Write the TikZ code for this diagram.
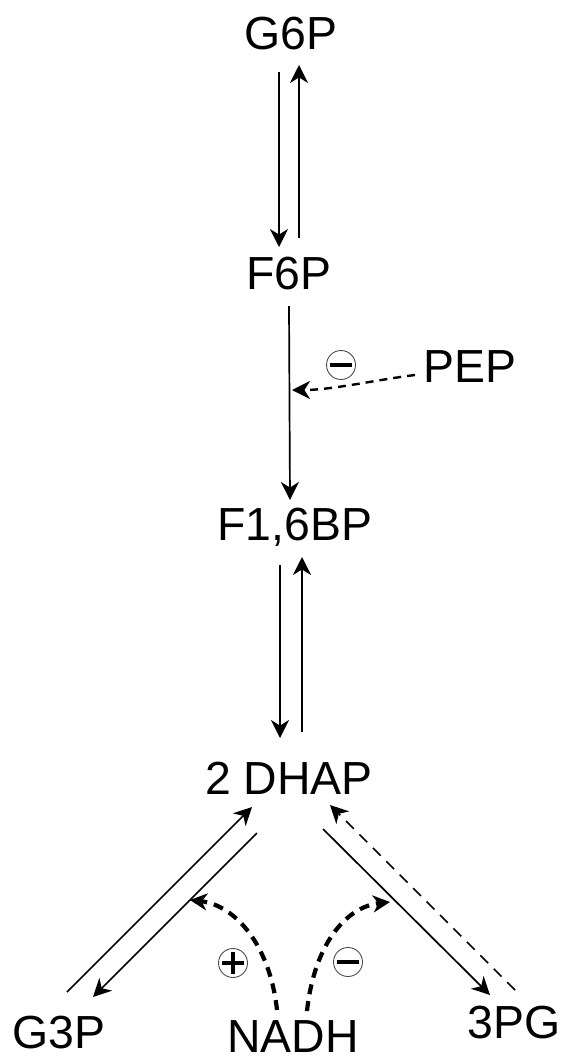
\documentclass[tikz,border=0pt]{standalone}
\usepackage{fontspec}
\setmainfont{Liberation Sans}
\usetikzlibrary{arrows.meta,calc}

\begin{document}
\begin{tikzpicture}[x=0.5pt,y=-0.5pt,
  met/.style={inner sep=0pt, anchor=base, font=\fontsize{23.2}{28}\selectfont},
  tip/.style={-{Stealth[length=9pt,width=9pt,inset=2.8pt]}},
  flux/.style={line width=0.85pt, tip},
  back/.style={line width=0.85pt, dash pattern=on 5.5pt off 4pt, tip},
  regul/.style={line width=1.2pt, dash pattern=on 4pt off 3pt, tip},
  nadreg/.style={line width=2.1pt, dash pattern=on 5pt off 3.5pt, -{Stealth[length=8.5pt,width=8.5pt,inset=2.6pt]}},
  sign/.style={circle, draw=black!70, line width=0.45pt, minimum size=14.5pt, inner sep=0pt},
  minus/.style={sign, path picture={
      \draw[black, line width=2.3pt] ([xshift=-5.3pt]path picture bounding box.center)
        -- ([xshift=5.3pt]path picture bounding box.center);}},
  plus/.style={sign, path picture={
      \draw[black, line width=2.3pt] ([xshift=-5.3pt]path picture bounding box.center)
        -- ([xshift=5.3pt]path picture bounding box.center);
      \draw[black, line width=2.3pt] ([yshift=-5.3pt]path picture bounding box.center)
        -- ([yshift=5.3pt]path picture bounding box.center);}}
]
\useasboundingbox (0,0) rectangle (564,1060);

% metabolites
\node[met] (G6P)  at (291,49)   {G6P};
\node[met] (F6P)  at (289,289)  {F6P};
\node[met] (PEP)  at (470,382)  {PEP};
\node[met] (F16BP) at (295,540) {F1,6BP};
\node[met] (DHAP) at (289,794)  {2 DHAP};
\node[met] (G3P)  at (59,1048)  {G3P};
\node[met] (NADH) at (293,1052) {NADH};
\node[met] (PG3)  at (514,1038) {3PG};

% upper glycolysis
\draw[flux] ($(G6P.base)+(-12,23)$) -- ($(F6P.base)+(-10,-42)$);
\draw[flux] ($(F6P.base)+(10,-51)$) -- ($(G6P.base)+(8,16)$);
\draw[flux] ($(F6P.base)+(0,17)$) -- ($(F16BP.base)+(-5,-40)$);
\draw[flux] ($(F16BP.base)+(-15,25)$) -- ($(DHAP.base)+(-9,-56)$);
\draw[flux] ($(DHAP.base)+(13,-62)$) -- ($(F16BP.base)+(7,17)$);

% PEP inhibition of the F6P -> F1,6BP step
\coordinate (pfk) at ($(F6P.base)+(3,101)$);
\draw[regul] ($(PEP.base)+(-55,-7)$) .. controls +(-40,5) and +(40,0) .. (pfk);
\node[minus] (m1) at (341,365) {};

% branches from DHAP
\draw[flux] ($(DHAP.base)+(-32,39)$) -- ($(G3P.base)+(34,-51)$);
\draw[flux] ($(G3P.base)+(8,-56)$) -- ($(DHAP.base)+(-37,13)$);
\draw[flux] ($(DHAP.base)+(34,35)$) -- ($(PG3.base)+(-24,-43)$);
\draw[back] ($(PG3.base)+(1,-48)$) -- ($(DHAP.base)+(41,11)$);

% NADH regulation
\coordinate (g3pdh) at (190,900);
\coordinate (pgdh) at (390,902);
\draw[nadreg] ($(NADH.base)+(-16,-42)$) .. controls +(-7,-65) and +(45,5) .. (g3pdh);
\draw[nadreg] ($(NADH.base)+(14,-41)$) .. controls +(7,-65) and +(-45,5) .. (pgdh);
\node[plus]  (p2) at (233,963) {};
\node[minus] (m2) at (348,962) {};
\end{tikzpicture}
\end{document}
